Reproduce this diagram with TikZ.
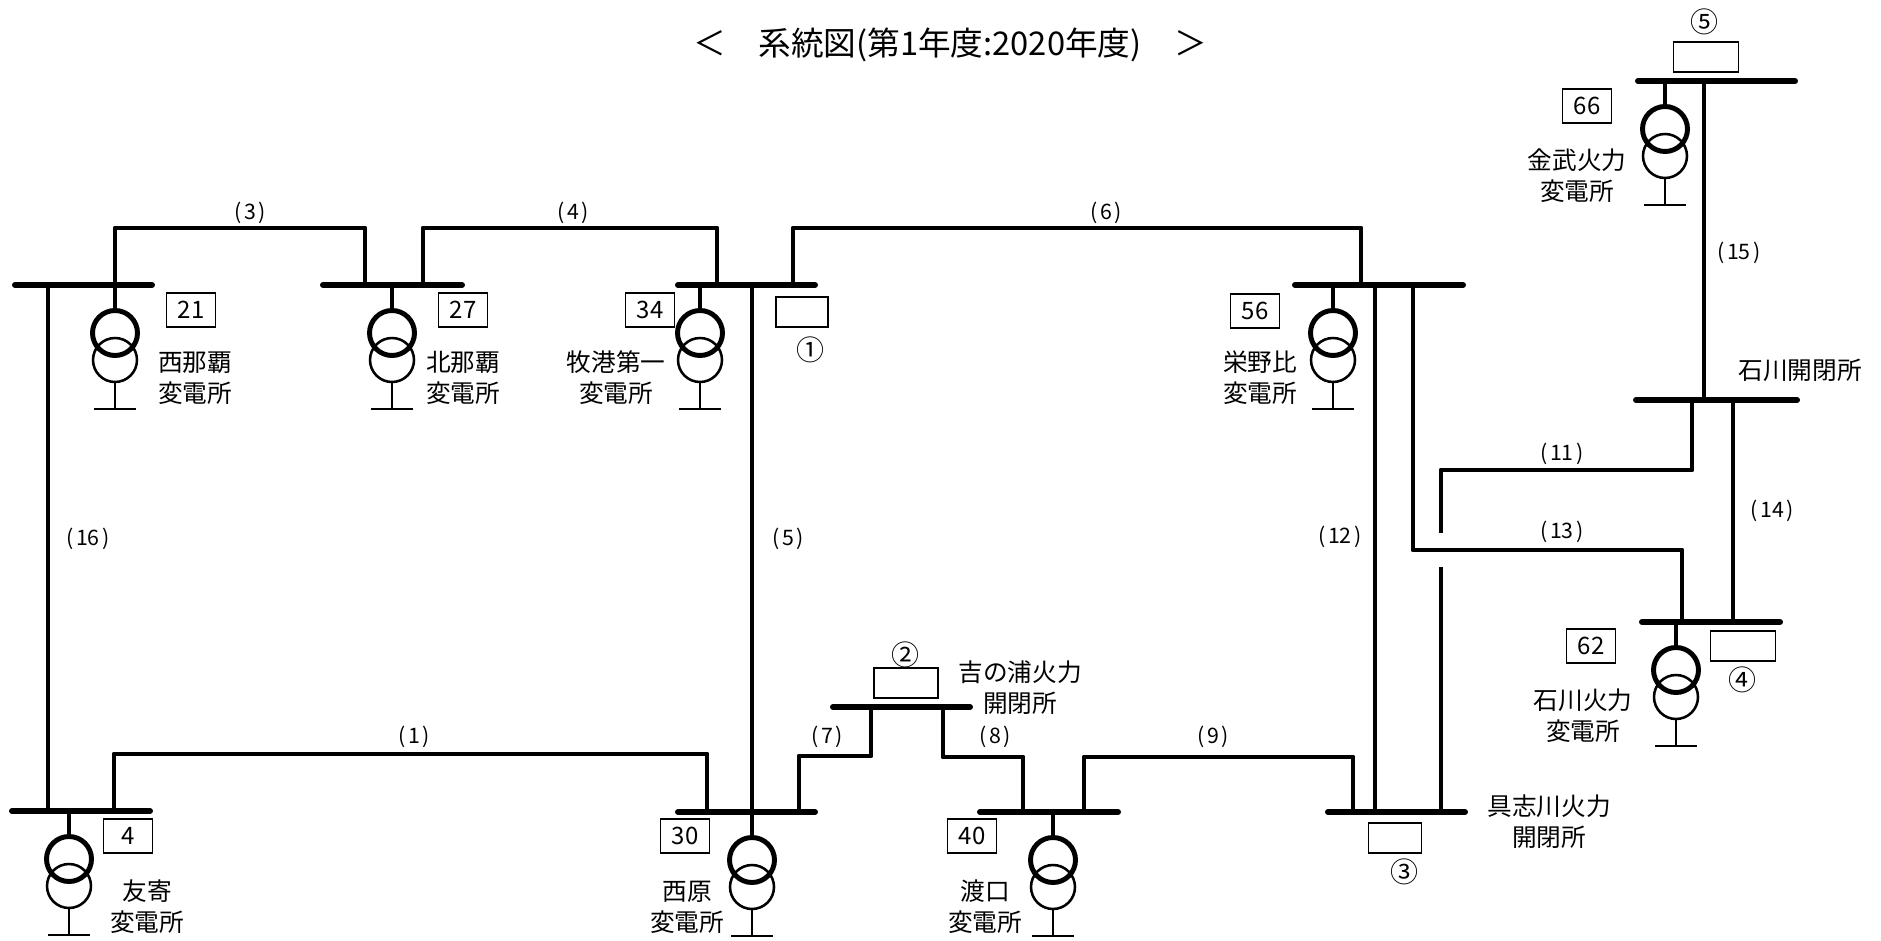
\documentclass[tikz,border=0pt]{standalone}
\usepackage{fontspec}
\setmainfont{Noto Sans CJK JP}
\newcommand\pn[1]{(\kern0.12em#1\kern0.12em)}
\begin{document}
\begin{tikzpicture}[x=0.75pt,y=-0.75pt,
  bus/.style={line width=4.5pt,line cap=round},
  tl/.style={line width=3.7pt,line join=round},
  thinln/.style={line width=1.9pt},
  numbox/.style={draw,line width=1pt,minimum width=37pt,minimum height=25.5pt,inner sep=0pt,font=\fontsize{18}{22}\selectfont},
  cbox/.style={draw,line width=1pt,minimum height=22.5pt,inner sep=0pt},
  stn/.style={align=center,inner sep=0pt,font=\fontsize{18.5}{23.25}\selectfont},
  lbl/.style={inner sep=0pt,font=\fontsize{16}{19}\selectfont},
  circ/.style={inner sep=0pt,font=\fontsize{21}{24}\selectfont},
  xfmr/.pic={
    \draw[line width=3.7pt] (0,0) -- (0,26);
    \draw[thinln] (0,75) circle[radius=22];
    \draw[line width=3.7pt] (0,48) circle[radius=22.5];
    \draw[thinln] (0,97) -- (0,124) (-21,124) -- (21,124);
  }]
\fill[white] (0,0) rectangle (1881,941);
\useasboundingbox (0,0) rectangle (1881,941);

% title
\node[inner sep=0pt,font=\fontsize{24.5}{28}\selectfont] (title) at (950,45) {＜　系統図(第1年度:2020年度)　＞};

% buses
\foreach \n/\xa/\xb/\yy in {nh/15/152/285, kn/323/462/285, mk/678/815/285, en/1295/1463/285,
  kin/1638/1795/81, iss/1636/1797/400, ist/1642/1780/622, ty/12/150/811, nhr/678/815/812,
  yo/833/970/707, tg/980/1118/812, gs/1328/1465/812}
  {\coordinate (\n-L) at (\xa,\yy); \coordinate (\n-R) at (\xb,\yy); \draw[bus] (\n-L) -- (\n-R);}

% tap points
\coordinate (a16) at (48,285);   \coordinate (b16) at (48,811);
\coordinate (a3) at (115,285);   \coordinate (b3) at (365,285);
\coordinate (a4) at (423,285);   \coordinate (b4) at (717,285);
\coordinate (a6) at (793,285);   \coordinate (b6) at (1361,285);
\coordinate (a5) at (752,285);   \coordinate (b5) at (752,812);
\coordinate (a1) at (114,811);   \coordinate (b1) at (707,812);
\coordinate (a7) at (799,812);   \coordinate (b7) at (871,707);
\coordinate (a8) at (943,707);   \coordinate (b8) at (1023,812);
\coordinate (a9) at (1084,812);  \coordinate (b9) at (1353,812);
\coordinate (a12) at (1375,285); \coordinate (b12) at (1375,812);
\coordinate (a13) at (1413,285); \coordinate (b13) at (1682,622);
\coordinate (a11) at (1441,812); \coordinate (b11) at (1692,400);
\coordinate (g11a) at (1441,567); \coordinate (g11b) at (1441,533);
\coordinate (a14) at (1733,400); \coordinate (b14) at (1733,622);
\coordinate (a15) at (1704,81);  \coordinate (b15) at (1704,400);

% lines
\draw[tl] (a16) -- (b16);
\draw[tl] (a3) -- ++(0,-57) -| (b3);
\draw[tl] (a4) -- ++(0,-57) -| (b4);
\draw[tl] (a6) -- ++(0,-57) -| (b6);
\draw[tl] (a5) -- (b5);
\draw[tl] (a1) -- ++(0,-57) -| (b1);
\draw[tl] (a7) -- ++(0,-56) -| (b7);
\draw[tl] (a8) -- ++(0,50) -| (b8);
\draw[tl] (a9) -- ++(0,-55) -| (b9);
\draw[tl] (a12) -- (b12);
\draw[tl] (a13) -- ++(0,265) -| (b13);
\draw[tl] (a11) -- (g11a);
\draw[tl] (g11b) -- ++(0,-63) -| (b11);
\draw[tl] (a14) -- (b14);
\draw[tl] (a15) -- (b15);

% line labels
\node[lbl] (l1) at (414,737) {\pn{1}};
\node[lbl] (l3) at (250,213) {\pn{3}};
\node[lbl] (l4) at (573,213) {\pn{4}};
\node[lbl] (l5) at (788,539) {\pn{5}};
\node[lbl] (l6) at (1106,213) {\pn{6}};
\node[lbl] (l7) at (827,737) {\pn{7}};
\node[lbl] (l8) at (995,737) {\pn{8}};
\node[lbl] (l9) at (1213,737) {\pn{9}};
\node[lbl] (l11) at (1562,454) {\pn{11}};
\node[lbl] (l12) at (1340,537) {\pn{12}};
\node[lbl] (l13) at (1562,532) {\pn{13}};
\node[lbl] (l14) at (1772,511) {\pn{14}};
\node[lbl] (l15) at (1739,253) {\pn{15}};
\node[lbl] (l16) at (88,539) {\pn{16}};

% transformers
\pic at (115,285) {xfmr};
\pic at (392,285) {xfmr};
\pic at (700,285) {xfmr};
\pic at (1333,285) {xfmr};
\pic at (1665,81) {xfmr};
\pic at (1676,622) {xfmr};
\pic at (69,811) {xfmr};
\pic at (752,812) {xfmr};
\pic at (1053,812) {xfmr};

% number boxes
\node[numbox] (n21) at (191,310) {21};
\node[numbox] (n27) at (463,310) {27};
\node[numbox] (n34) at (650,310) {34};
\node[numbox] (n56) at (1255,311) {56};
\node[numbox] (n66) at (1587,106) {66};
\node[numbox] (n62) at (1591,646) {62};
\node[numbox] (n4) at (128,836) {4};
\node[numbox] (n30) at (685,836) {30};
\node[numbox] (n40) at (972,836) {40};

% circled boxes
\node[cbox,minimum width=39pt] (c1) at (802,312) {};
\node[circ] (t1) at (810,350) {①};
\node[cbox,minimum width=48pt] (c2) at (906,683) {};
\node[circ] (t2) at (905,655) {②};
\node[cbox,minimum width=40pt] (c3) at (1395,838) {};
\node[circ] (t3) at (1404,872) {③};
\node[cbox,minimum width=49pt] (c4) at (1743,646) {};
\node[circ] (t4) at (1742,680) {④};
\node[cbox,minimum width=49pt] (c5) at (1706,57) {};
\node[circ] (t5) at (1704,22) {⑤};

% station names
\node[stn] (s1) at (195,378) {西那覇\\変電所};
\node[stn] (s2) at (463,378) {北那覇\\変電所};
\node[stn] (s3) at (616,378) {牧港第一\\変電所};
\node[stn] (s4) at (1260,378) {栄野比\\変電所};
\node[stn] (s5) at (1577,176) {金武火力\\変電所};
\node[stn] (s6) at (1800,370) {石川開閉所};
\node[stn] (s7) at (1583,716) {石川火力\\変電所};
\node[stn] (s8) at (147,907) {友寄\\変電所};
\node[stn] (s9) at (687,907) {西原\\変電所};
\node[stn] (s10) at (985,907) {渡口\\変電所};
\node[stn] (s11) at (1020,688) {吉の浦火力\\開閉所};
\node[stn] (s12) at (1549,822) {具志川火力\\開閉所};
\end{tikzpicture}
\end{document}
